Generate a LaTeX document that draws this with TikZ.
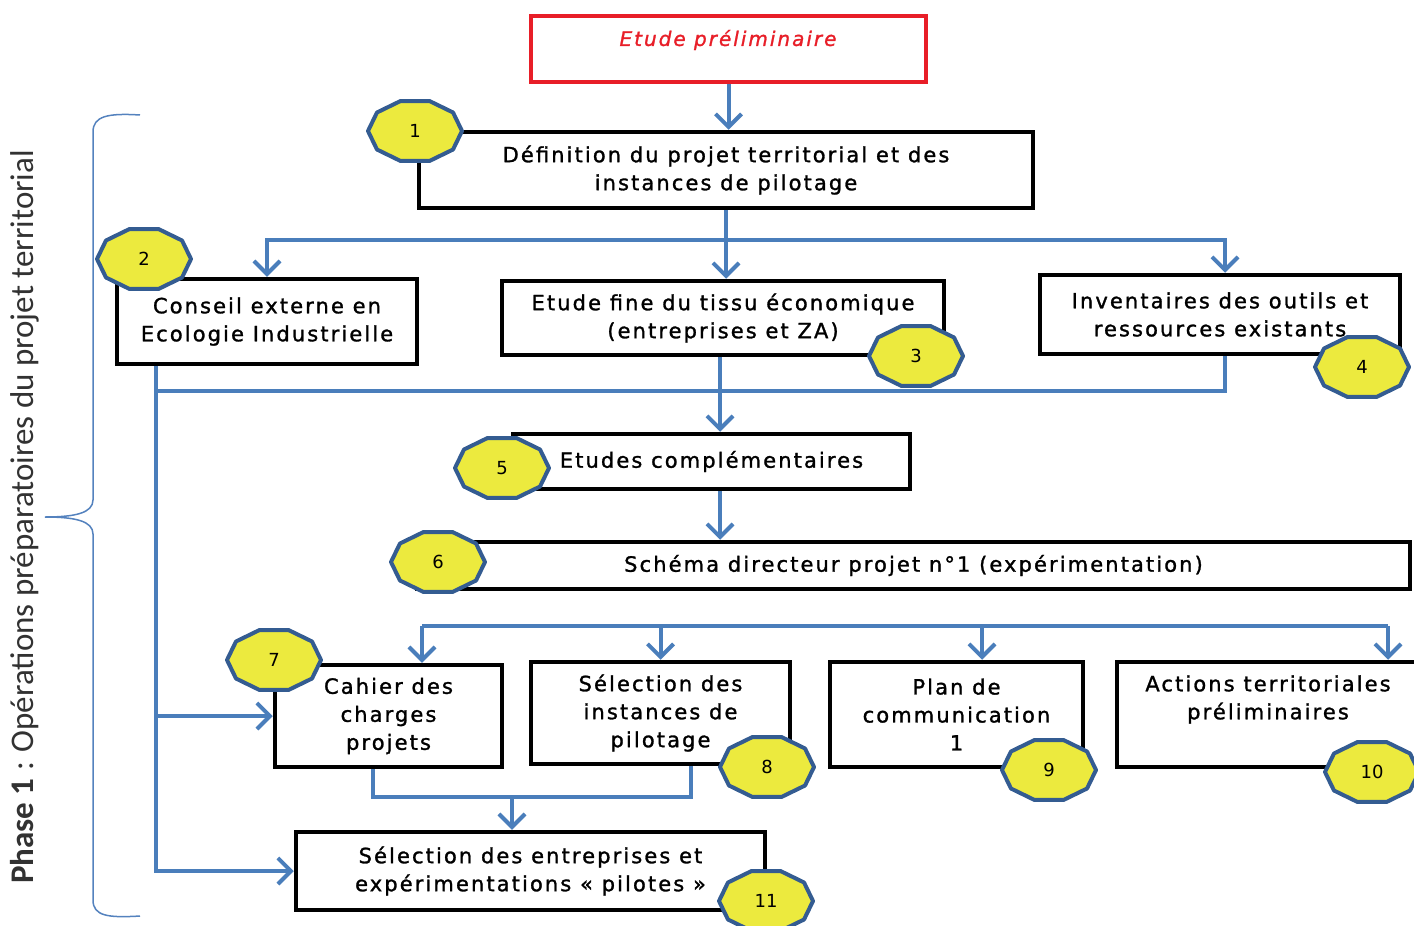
\documentclass[tikz,border=0pt]{standalone}
\usepackage{fontspec}
\setmainfont{DejaVu Sans}
\newfontfamily\boxfamily{DejaVu Sans}[LetterSpace=10, RawFeature={embolden=1.3}]
\newfontfamily\sidefont{Carlito}
\usetikzlibrary{arrows.meta,calc}

\definecolor{flowblue}{RGB}{74,126,187}
\definecolor{badgeblue}{RGB}{52,92,145}
\definecolor{badgeyellow}{RGB}{236,234,62}
\definecolor{prered}{RGB}{232,30,40}
\definecolor{bracecol}{RGB}{84,130,190}
\definecolor{sidegray}{RGB}{50,50,50}

\tikzset{
  boxfont/.style={font=\boxfamily\fontsize{21}{28}\selectfont},
  box/.style={draw=black, line width=4.5pt, fill=white, align=center, inner sep=0pt, boxfont},
  boxtext/.style={align=center, inner sep=0pt, boxfont},
  conn/.style={draw=flowblue, line width=4pt},
  arr/.style={conn, -{Straight Barb[length=13pt,width=26pt]}},
  badge/.style={draw=badgeblue, fill=badgeyellow, line width=4pt, line join=round},
  badgenum/.style={font=\fontsize{18}{18}\selectfont, inner sep=0pt},
}

% numbered ten-sided tag: name, x, y, number
\newcommand\numbadge[4]{%
  \filldraw[badge, shift={(#2,#3)}]
    (0:47 and 31.5) -- (36:47 and 31.5) -- (72:47 and 31.5) -- (108:47 and 31.5)
    -- (144:47 and 31.5) -- (180:47 and 31.5) -- (216:47 and 31.5) -- (252:47 and 31.5)
    -- (288:47 and 31.5) -- (324:47 and 31.5) -- cycle;
  \node[badgenum] (#1) at (#2,#3) {#4};}

\begin{document}
\begin{tikzpicture}[x=1pt,y=-1pt]
\useasboundingbox (0,0) rectangle (1414,926);
\clip (0,0) rectangle (1414,926);

% side title and brace
\node[rotate=90, text=sidegray, font=\sidefont\fontsize{33}{33}\selectfont] (phase) at (25,517)
  {\textbf{Phase 1} : Opérations préparatoires du projet territorial};
\draw[bracecol, line width=1.5pt]
  (140,115) .. controls (108,113) and (93,116) .. (93,132) -- (93,500)
  .. controls (93,513) and (75,517) .. (45,517)
  .. controls (75,517) and (93,521) .. (93,534) -- (93,900)
  .. controls (93,916) and (108,918) .. (140,916);

% boxes
\node[box, draw=prered, minimum width=395pt, minimum height=66pt] (pre) at (728.5,49) {};
\node[boxtext, text=prered, font=\boxfamily\fontsize{20}{28}\selectfont\itshape] (pretxt) at (728,40) {Etude préliminaire};

\node[box, minimum width=614pt, minimum height=76pt] (b1) at (726,170)
  {Définition du projet territorial et des\\instances de pilotage};
\node[box, minimum width=300pt, minimum height=85pt] (b2) at (267,321.5)
  {Conseil externe en\\Ecologie Industrielle};
\node[box, minimum width=442pt, minimum height=74pt] (b3) at (723,318)
  {Etude fine du tissu économique\\(entreprises et ZA)};
\node[box, minimum width=360pt, minimum height=79pt] (b4) at (1220,314.5)
  {Inventaires des outils et\\ressources existants};
\node[box, minimum width=397pt, minimum height=55pt] (b5) at (711.5,461.5)
  {Etudes complémentaires};
\node[box, minimum width=993pt, minimum height=47pt] (b6) at (913.5,565.5)
  {Schéma directeur projet n°1 (expérimentation)};
\node[box, minimum width=227pt, minimum height=102pt] (b7) at (388.5,716)
  {Cahier des\\charges\\projets};
\node[box, minimum width=259pt, minimum height=102pt] (b8) at (660.5,713)
  {Sélection des\\instances de\\pilotage};
\node[box, minimum width=253pt, minimum height=105pt] (b9) at (956.5,714.5)
  {Plan de\\communication\\1};
\node[box, minimum width=302pt, minimum height=105pt] (b10) at (1268,714.5) {};
\node[boxtext] (b10txt) at (1268,699.5) {Actions territoriales\\préliminaires};
\node[box, minimum width=469pt, minimum height=78pt] (b11) at (530.5,871)
  {Sélection des entreprises et\\expérimentations «~pilotes~»};

% connectors
\draw[arr] (pre.south) -- (pre.south |- b1.north);

\coordinate (j1) at (726,240);
\draw[conn] (b1.south) -- (j1);
\draw[arr] (j1) -| (b2.north);
\draw[arr] (j1) -| ([xshift=5pt]b4.north);
\draw[arr] (j1) -- (j1 |- b3.north);

\coordinate (s0) at ([xshift=41pt]b2.south west);
\coordinate (j2) at (720,391);
\coordinate (r4) at ([xshift=5pt]b4.south);
\draw[arr] (s0) |- (b11.west);
\draw[arr] (s0 |- b7.west) -- (b7.west);
\draw[conn] (r4) |- (s0 |- j2);
\draw[arr] (j2 |- b3.south) -- (j2 |- b5.north);
\draw[arr] (j2 |- b5.south) -- (j2 |- b6.north);

\coordinate (t7) at (422,626);
\coordinate (t10) at (1388,626);
\coordinate (a9) at ([xshift=25.5pt]b9.north);
\draw[conn] (t7) -- (t10);
\draw[arr] (t7) -- (t7 |- b7.north);
\draw[arr] (b8.north |- t7) -- (b8.north);
\draw[arr] (a9 |- t7) -- (a9);
\draw[arr] (t10) -- (t10 |- b10.north);

\coordinate (j4) at (512,797);
\coordinate (m7) at ([xshift=-15.5pt]b7.south);
\coordinate (m8) at ([xshift=30.5pt]b8.south);
\draw[conn] (m7) |- (j4) -| (m8);
\draw[arr] (j4) -- (j4 |- b11.north);

% numbered tags
\numbadge{n1}{415}{131}{1}
\numbadge{n2}{144}{259}{2}
\numbadge{n3}{916}{356}{3}
\numbadge{n4}{1362}{367}{4}
\numbadge{n5}{502}{468}{5}
\numbadge{n6}{438}{562}{6}
\numbadge{n7}{274}{660}{7}
\numbadge{n8}{767}{767}{8}
\numbadge{n9}{1049}{770}{9}
\numbadge{n10}{1372}{772}{10}
\numbadge{n11}{766}{901}{11}
\end{tikzpicture}
\end{document}
